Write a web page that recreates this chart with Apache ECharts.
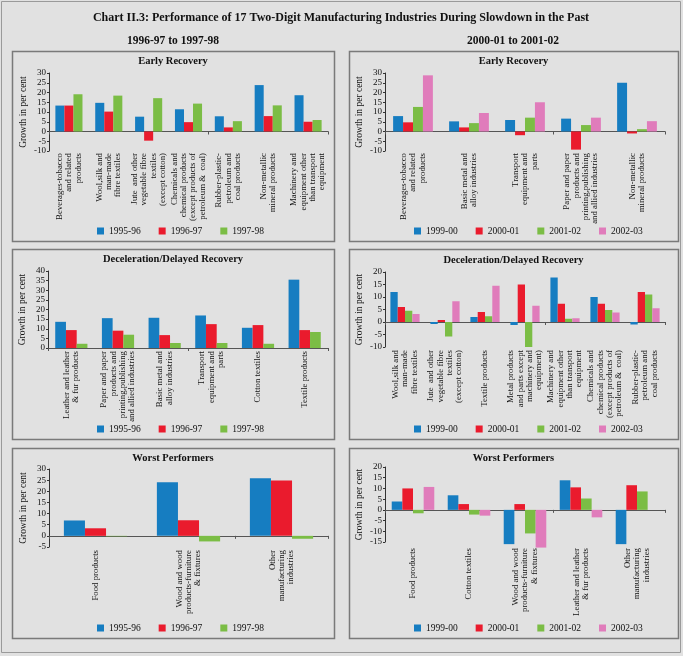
<!DOCTYPE html>
<html><head><meta charset="utf-8">
<script src="https://cdn.jsdelivr.net/npm/echarts@6/dist/echarts.min.js"></script>
<style>html,body{margin:0;padding:0;background:#e1e1e1}#c{width:683px;height:656px}</style>
</head><body><div id="c"></div><script>
// ---------- DATA ----------
const mainTitle = 'Chart II.3: Performance of 17 Two-Digit Manufacturing Industries During Slowdown in the Past';
const periodTitles = ['1996-97 to 1997-98', '2000-01 to 2001-02'];
const panelTitles = ['Early Recovery', 'Early Recovery', 'Deceleration/Delayed Recovery', 'Deceleration/Delayed Recovery', 'Worst Performers', 'Worst Performers'];
const yearsA = ['1995-96', '1996-97', '1997-98'];
const yearsB = ['1999-00', '2000-01', '2001-02', '2002-03'];
const yAxisName = 'Growth in per cent';

// Panel 1: 1996-97 to 1997-98, Early Recovery
const p1Cats = ['Beverages-tobacco\nand related\nproducts', 'Wool,silk and\nman-made\nfibre textiles', 'Jute  and other\nvegetable fibre\ntextiles\n(except cotton)', 'Chemicals and\nchemical products\n(except products of\npetroleum &  coal)', 'Rubber-plastic-\npetroleum and\ncoal products', 'Non-metallic\nmineral products', 'Machinery and\nequipment other\nthan transport\nequipment'];
const p1_1995 = [13.3, 14.7, 7.6, 11.4, 7.8, 23.8, 18.6];
const p1_1996 = [13.3, 10.2, -4.7, 4.8, 2.1, 7.9, 5.0];
const p1_1997 = [19.1, 18.4, 17.1, 14.3, 5.3, 13.4, 5.9];
const p1Y = [-10, 30, 5];

// Panel 2: 2000-01 to 2001-02, Early Recovery
const p2Cats = ['Beverages-tobacco\nand related\nproducts', 'Basic metal and\nalloy industries', 'Transport\nequipment and\nparts', 'Paper and paper\nproducts and\nprinting,publishing\nand allied industries', 'Non-metallic\nmineral products'];
const p2_1999 = [7.9, 5.2, 5.9, 6.6, 25.0];
const p2_2000 = [4.7, 2.1, -1.9, -9.3, -1.0];
const p2_2001 = [12.6, 4.3, 7.1, 3.3, 1.2];
const p2_2002 = [28.8, 9.5, 15.0, 7.1, 5.3];
const p2Y = [-10, 30, 5];

// Panel 3: 1996-97 to 1997-98, Deceleration/Delayed Recovery
const p3Cats = ['Leather and leather\n& fur products', 'Paper and paper\nproducts and\nprinting,publishing\nand allied industries', 'Basic metal and\nalloy industries', 'Transport\nequipment and\nparts', 'Cotton textiles', 'Textile products'];
const p3_1995 = [13.6, 15.5, 15.7, 16.9, 10.5, 35.5];
const p3_1996 = [9.3, 9.0, 6.7, 12.4, 11.9, 9.3];
const p3_1997 = [2.2, 6.9, 2.6, 2.6, 2.2, 8.3];
const p3Y = [0, 40, 5];

// Panel 4: 2000-01 to 2001-02, Deceleration/Delayed Recovery
const p4Cats = ['Wool,silk and\nman-made\nfibre textiles', 'Jute  and other\nvegetable fibre\ntextiles\n(except cotton)', 'Textile products', 'Metal products\nand parts except\nmachinery and\nequipment)', 'Machinery and\nequipment other\nthan transport\nequipment', 'Chemicals and\nchemical products\n(except products of\npetroleum &  coal)', 'Rubber-plastic-\npetroleum and\ncoal products'];
const p4_1999 = [12.0, -0.8, 2.0, -1.2, 17.8, 10.0, -1.0];
const p4_2000 = [6.0, 0.8, 4.0, 15.0, 7.3, 7.3, 12.0];
const p4_2001 = [4.5, -5.8, 2.3, -10.0, 1.3, 4.8, 11.0];
const p4_2002 = [3.2, 8.3, 14.5, 6.5, 1.5, 3.8, 5.5];
const p4Y = [-10, 20, 5];

// Panel 5: 1996-97 to 1997-98, Worst Performers
const p5Cats = ['Food products', 'Wood and wood\nproducts-furniture\n& fixtures', 'Other\nmanufacturing\nindustries'];
const p5_1995 = [6.9, 24.1, 25.9];
const p5_1996 = [3.4, 7.0, 24.8];
const p5_1997 = [-0.2, -2.5, -1.3];
const p5Y = [-5, 30, 5];

// Panel 6: 2000-01 to 2001-02, Worst Performers
const p6Cats = ['Food products', 'Cotton textiles', 'Wood and wood\nproducts-furniture\n& fixtures', 'Leather and leather\n& fur products', 'Other\nmanufacturing\nindustries'];
const p6_1999 = [3.9, 6.8, -16.0, 13.8, -16.0];
const p6_2000 = [10.0, 2.7, 2.7, 10.5, 11.5];
const p6_2001 = [-1.6, -2.2, -11.0, 5.3, 8.6];
const p6_2002 = [10.7, -2.7, -17.6, -3.5, 0];
const p6Y = [-15, 20, 5];

// ---------- STYLE / LAYOUT ----------
const SERIF = '"Liberation Serif", "Times New Roman", serif';
const BLUE = '#167dc1', RED = '#ea1b2d', GREEN = '#7bbd45', PINK = '#e07cbb';
const colorsA = [BLUE, RED, GREEN];
const colorsB = [BLUE, RED, GREEN, PINK];

const panels = [
  {cats: p1Cats, names: yearsA, data: [p1_1995, p1_1996, p1_1997], colors: colorsA, y: p1Y,
   grid: {left: 49, top: 73, width: 279, height: 78}, gap: '32%', legend: {left: 97, top: 226}, margin: 2},
  {cats: p2Cats, names: yearsB, data: [p2_1999, p2_2000, p2_2001, p2_2002], colors: colorsB, y: p2Y,
   grid: {left: 385, top: 73, width: 280, height: 78}, gap: '29%', legend: {left: 414, top: 226}, margin: 2},
  {cats: p3Cats, names: yearsA, data: [p3_1995, p3_1996, p3_1997], colors: colorsA, y: p3Y,
   grid: {left: 48, top: 271, width: 280, height: 77}, gap: '31%', legend: {left: 97, top: 424}, margin: 3},
  {cats: p4Cats, names: yearsB, data: [p4_1999, p4_2000, p4_2001, p4_2002], colors: colorsB, y: p4Y,
   grid: {left: 385, top: 272, width: 280, height: 75}, gap: '27%', legend: {left: 414, top: 424}, margin: 3},
  {cats: p5Cats, names: yearsA, data: [p5_1995, p5_1996, p5_1997], colors: colorsA, y: p5Y,
   grid: {left: 49, top: 469, width: 279, height: 78}, gap: '32%', legend: {left: 97, top: 623}, margin: 3},
  {cats: p6Cats, names: yearsB, data: [p6_1999, p6_2000, p6_2001, p6_2002], colors: colorsB, y: p6Y,
   grid: {left: 385, top: 467, width: 280, height: 75}, gap: '24%', legend: {left: 414, top: 623}, margin: 6}
];

const grids = [], xAxes = [], yAxes = [], series = [], legends = [];
panels.forEach((p, i) => {
  grids.push(Object.assign({containLabel: false}, p.grid));
  // label axis (bottom of grid)
  xAxes.push({
    gridIndex: i, type: 'category', data: p.cats, position: 'bottom',
    axisLine: {show: false, onZero: false}, axisTick: {show: false},
    axisLabel: {interval: 0, rotate: 90, fontFamily: SERIF, fontSize: 8.8, lineHeight: 9.3, color: '#111', margin: p.margin}
  });
  // zero line axis with boundary ticks
  xAxes.push({
    gridIndex: i, type: 'category', data: p.cats,
    axisLine: {show: true, onZero: true, lineStyle: {color: '#555', width: 1}},
    axisTick: {show: true, inside: true, length: 3, lineStyle: {color: '#555'}},
    axisLabel: {show: false}
  });
  yAxes.push({
    gridIndex: i, type: 'value', min: p.y[0], max: p.y[1], interval: p.y[2],
    axisLine: {show: true, lineStyle: {color: '#333', width: 1}},
    axisTick: {show: true, length: 2, lineStyle: {color: '#333'}},
    splitLine: {show: false},
    axisLabel: {fontFamily: SERIF, fontSize: 9, color: '#111', margin: 3},
    name: yAxisName, nameLocation: 'middle', nameGap: 21,
    nameTextStyle: {fontFamily: SERIF, fontSize: 9.5, color: '#111'}
  });
  p.names.forEach((n, k) => {
    series.push({
      type: 'bar', name: n, xAxisIndex: 2 * i, yAxisIndex: i, data: p.data[k],
      itemStyle: {color: p.colors[k]}, barGap: '0%', barCategoryGap: p.gap, clip: false
    });
  });
  legends.push({
    data: p.names, left: p.legend.left, top: p.legend.top, orient: 'horizontal', padding: 0,
    icon: 'rect', itemWidth: 7, itemHeight: 7, itemGap: 18, selectedMode: false,
    textStyle: {fontFamily: SERIF, fontSize: 9.5, color: '#111'}
  });
});

const panelRects = [[12, 51], [349, 51], [12, 249], [349, 249], [12, 448], [349, 448]];
const panelW = [322, 329];
const panelTitleY = [61, 61, 259, 260, 458, 458];
const graphic = [
  {type: 'rect', silent: true, shape: {x: 1.5, y: 1.5, width: 679, height: 651}, style: {fill: 'none', stroke: '#9a9a9a', lineWidth: 1}},
  {type: 'text', silent: true, x: 341, y: 18, style: {text: mainTitle, font: 'bold 12px ' + SERIF, fill: '#111', align: 'center', verticalAlign: 'middle'}},
  {type: 'text', silent: true, x: 173, y: 41, style: {text: periodTitles[0], font: 'bold 11.5px ' + SERIF, fill: '#111', align: 'center', verticalAlign: 'middle'}},
  {type: 'text', silent: true, x: 513, y: 41, style: {text: periodTitles[1], font: 'bold 11.5px ' + SERIF, fill: '#111', align: 'center', verticalAlign: 'middle'}}
];
panelRects.forEach((r, i) => {
  const w = panelW[i % 2];
  graphic.push({type: 'rect', silent: true, shape: {x: r[0] + 0.5, y: r[1] + 0.5, width: w, height: 190},
    style: {fill: 'none', stroke: '#7a7a7a', lineWidth: 1.5}});
  graphic.push({type: 'text', silent: true, x: r[0] + w / 2, y: panelTitleY[i],
    style: {text: panelTitles[i], font: 'bold 10.5px ' + SERIF, fill: '#111', align: 'center', verticalAlign: 'middle'}});
});

const chart = echarts.init(document.getElementById('c'));
chart.setOption({
  backgroundColor: '#e1e1e1',
  animation: false,
  grid: grids, xAxis: xAxes, yAxis: yAxes, series: series, legend: legends, graphic: graphic
});
</script></body></html>
